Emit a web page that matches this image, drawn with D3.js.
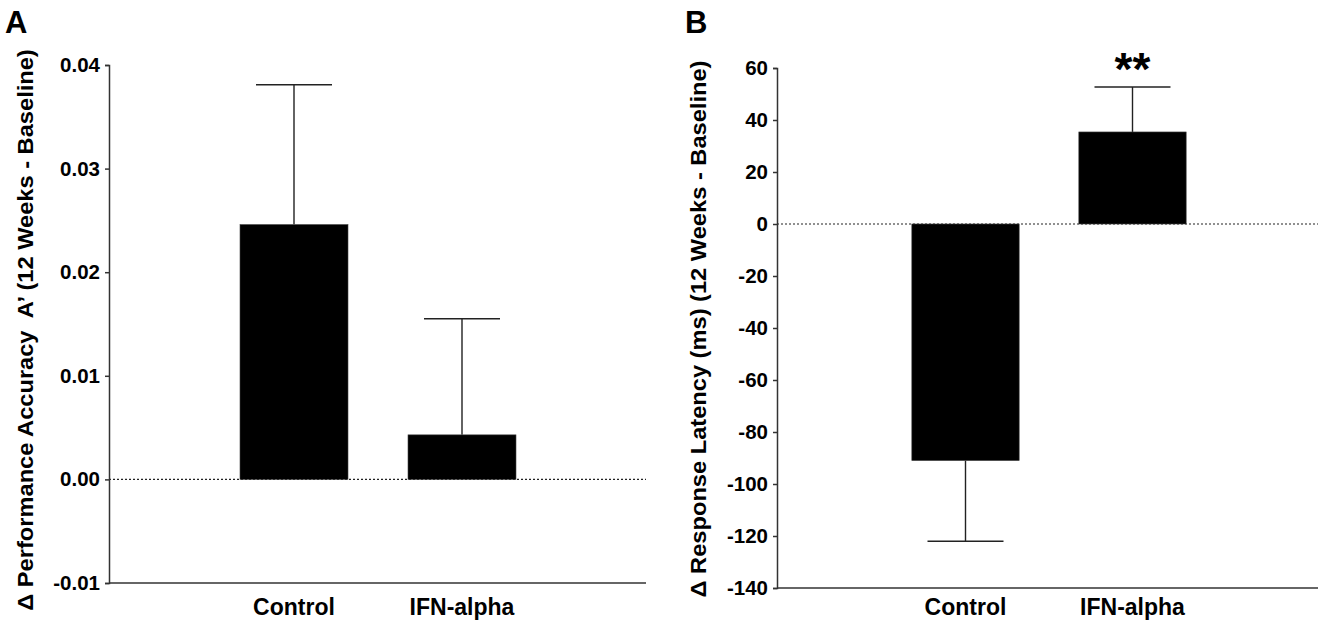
<!DOCTYPE html>
<html lang="en">
<head>
	<meta charset="utf-8">
	<title>Accuracy and latency change</title>
	<script src="https://d3js.org/d3.v7.min.js"></script>
	<style>
	body { margin: 0; background: #fff; }
	text { font-family: "Liberation Sans", Arial, Helvetica, sans-serif; font-weight: bold; fill: #000; }
	.axis path, .axis line { stroke: #333; stroke-width: 1.5px; }
	.axis text { font-size: 20.5px; font-family: "Liberation Sans", Arial, sans-serif; font-weight: bold; }
	.zero { stroke: #222; stroke-width: 1.2px; stroke-dasharray: 2,2; }
	.bar { fill: #000; stroke: #444; stroke-width: 0.6px; }
	.err { stroke: #222; stroke-width: 1.4px; }
	</style>
</head>
<body>
	<script>
		// groups on the x axis
		var categories = ["Control", "IFN-alpha"];

		// panel A: change in A'
		var accuracyMeans = [0.0246, 0.0043];
		var accuracyErrors = [0.0135, 0.0112];
		var accuracyTicks = [-0.01, 0.00, 0.01, 0.02, 0.03, 0.04];

		// panel B: change in latency (ms)
		var latencyMeans = [-91, 35.4];
		var latencyErrors = [31, 17.3];
		var latencyTicks = [-140, -120, -100, -80, -60, -40, -20, 0, 20, 40, 60];

		var w = 1320;
		var h = 622;

		var svg = d3.select("body")
					.append("svg")
					.attr("width", w)
					.attr("height", h);

		// plain hyphen for negatives, like the original figure
		function hyphen(f) {
			return function(v) { return f(v).replace("\u2212", "-"); };
		}

		function drawPanel(p) {
			var y = d3.scaleLinear()
					  .domain(p.domain)
					  .range([p.bottom, p.top]);

			// bands of 168px, bar width 108px
			var x = d3.scaleBand()
					  .domain(categories)
					  .range(p.xRange)
					  .paddingInner(60 / 168)
					  .paddingOuter(30 / 168);

			var g = svg.append("g");

			// zero reference
			g.append("line")
				.attr("class", "zero")
				.attr("x1", p.left)
				.attr("x2", p.right)
				.attr("y1", y(0))
				.attr("y2", y(0));

			var data = categories.map(function(c, i) {
				return { cat: c, mean: p.means[i], err: p.errors[i] };
			});

			// error bars, only away from zero
			data.forEach(function(d) {
				var cx = x(d.cat) + x.bandwidth() / 2;
				var end = d.mean >= 0 ? d.mean + d.err : d.mean - d.err;
				g.append("line")
					.attr("class", "err")
					.attr("x1", cx).attr("x2", cx)
					.attr("y1", y(d.mean)).attr("y2", y(end));
				g.append("line")
					.attr("class", "err")
					.attr("x1", cx - 38).attr("x2", cx + 38)
					.attr("y1", y(end)).attr("y2", y(end));
			});

			g.selectAll("rect")
				.data(data)
			  .enter().append("rect")
				.attr("class", "bar")
				.attr("x", function(d) { return x(d.cat); })
				.attr("width", x.bandwidth())
				.attr("y", function(d) { return y(Math.max(0, d.mean)); })
				.attr("height", function(d) { return Math.abs(y(d.mean) - y(0)); });

			// y axis
			g.append("g")
				.attr("class", "axis")
				.attr("transform", "translate(" + p.left + ",0)")
				.call(d3.axisLeft(y)
					.tickValues(p.ticks)
					.tickFormat(hyphen(p.format))
					.tickSizeInner(4)
					.tickSizeOuter(4)
					.tickPadding(5));

			// x axis: plain line with labels
			g.append("line")
				.style("stroke", "#333")
				.style("stroke-width", "1.5px")
				.attr("x1", p.left)
				.attr("x2", p.right)
				.attr("y1", p.bottom)
				.attr("y2", p.bottom);

			// both panels put the group names on the same baseline
			g.selectAll(".cat")
				.data(categories)
			  .enter().append("text")
				.attr("class", "cat")
				.attr("x", function(d) { return x(d) + x.bandwidth() / 2; })
				.attr("y", 615)
				.attr("text-anchor", "middle")
				.style("font-size", "23px")
				.text(function(d) { return d; });

			// rotated axis title
			g.append("text")
				.attr("transform", "translate(" + p.titleX + "," + p.titleY + ") rotate(-90) scale(1.1,1)")
				.attr("text-anchor", "middle")
				.style("white-space", "pre")
				.style("font-size", "21.5px")
				.text(p.title);

			// panel letter
			g.append("text")
				.attr("x", p.letterX)
				.attr("y", 33)
				.style("font-size", "31px")
				.text(p.letter);

			return { x: x, y: y, g: g };
		}

		drawPanel({
			letter: "A", letterX: 5,
			title: "\u0394 Performance Accuracy  A\u2019 (12 Weeks - Baseline)",
			titleX: 33, titleY: 330,
			domain: [-0.01, 0.04], ticks: accuracyTicks, format: d3.format(".2f"),
			means: accuracyMeans, errors: accuracyErrors,
			left: 109, right: 646, top: 65, bottom: 583,
			xRange: [210, 546]
		});

		var b = drawPanel({
			letter: "B", letterX: 685,
			title: "\u0394 Response Latency (ms) (12 Weeks - Baseline)",
			titleX: 706, titleY: 329,
			domain: [-140, 60], ticks: latencyTicks, format: d3.format("d"),
			means: latencyMeans, errors: latencyErrors,
			left: 777, right: 1318, top: 68, bottom: 588,
			xRange: [882, 1216]
		});

		// significance marker over IFN-alpha
		b.g.append("text")
			.attr("x", b.x("IFN-alpha") + b.x.bandwidth() / 2)
			.attr("y", b.y(latencyMeans[1] + latencyErrors[1]) - 2)
			.attr("text-anchor", "middle")
			.style("font-size", "46px")
			.text("**");
	</script>
</body>
</html>
